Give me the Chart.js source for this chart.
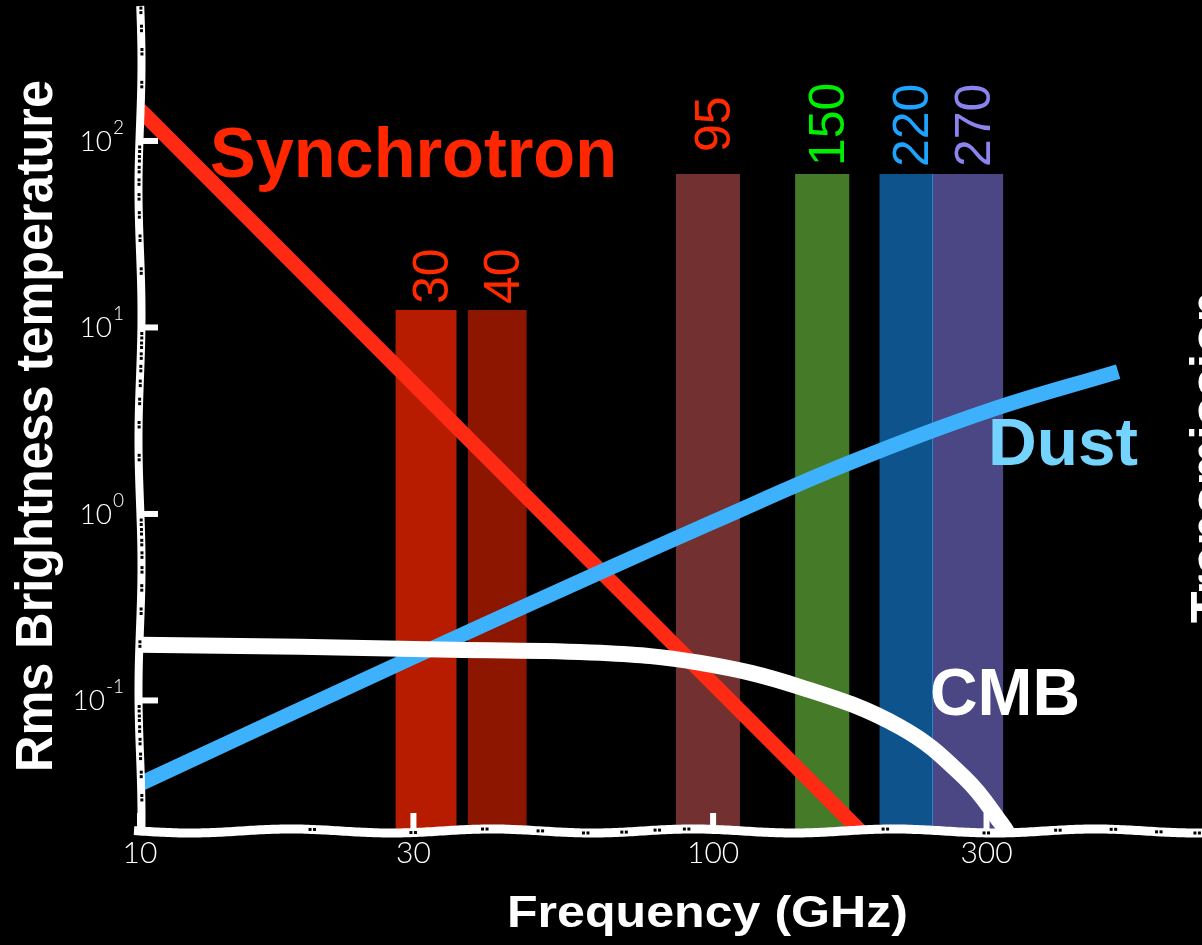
<!DOCTYPE html>
<html>
<head>
<meta charset="utf-8">
<script src="https://cdn.jsdelivr.net/npm/chart.js@4.4.1/dist/chart.umd.min.js"></script>
<style>
  html, body { margin: 0; padding: 0; background: #000; }
  #wrap { width: 1202px; height: 945px; }
</style>
</head>
<body>
<div id="wrap"><canvas id="chart" width="1202" height="945"></canvas></div>
<script>
// axis ticks
const freqTicks = [10, 30, 100, 300];
const tempTicks = [100, 10, 1, 0.1];
const tempTickExp = ["2", "1", "0", "-1"];

// foreground curves (GHz, K)
const syncFreq = [10, 30, 100, 185];
const syncTemp = [147, 5.0, 0.123, 0.0185];
const dustFreq = [10, 30, 64, 100, 173, 300, 509];
const dustTemp = [0.0357, 0.171, 0.492, 0.906, 1.88, 3.55, 5.80];
const cmbFreq = [10, 19, 35, 63.5, 95, 142, 212, 275, 318, 336];
const cmbTemp = [0.199, 0.194, 0.187, 0.180, 0.159, 0.118, 0.0721, 0.0384, 0.0220, 0.0168];

// observing bands
const bandNames = ["30", "40", "95", "150", "220", "270"];
const bandLow = [27.9, 37.3, 86.1, 139, 195, 241];
const bandHigh = [35.7, 47.3, 111.4, 173, 241, 321];
const bandTop = [12.4, 12.4, 66.5, 66.5, 66.5, 66.5];

// styles
const bandColors = ["#b71c00", "#8d1600", "#733030", "#457a28", "#0e538b", "#4a4784"];
const bandTextColors = ["#ff2a00", "#ff2a00", "#ff2a00", "#00ee00", "#1ea4ff", "#8c84ee"];
const bandTextGap = [6, 6, 22, 8, 7, 7];

const toPoints = (xs, ys) => xs.map((v, i) => ({ x: v, y: ys[i] }));

// lower order is drawn on top
const datasets = [
    {
        label: "CMB", data: toPoints(cmbFreq, cmbTemp),
        borderColor: "#ffffff", borderWidth: 16, tension: 0.4, order: 0, clip: 0
    },
    {
        label: "Dust", data: toPoints(dustFreq, dustTemp),
        borderColor: "#3eb1fc", borderWidth: 15, tension: 0.4, order: 1, clip: 0
    },
    {
        label: "Synchrotron", data: toPoints(syncFreq, syncTemp),
        borderColor: "#ff2a14", borderWidth: 15, tension: 0, order: 2, clip: 0
    }
];

bandNames.forEach((name, i) => {
    datasets.push({
        label: name + " GHz",
        data: [{ x: bandLow[i], y: bandTop[i] }, { x: bandHigh[i], y: bandTop[i] }],
        borderWidth: 0,
        borderColor: "rgba(0,0,0,0)",
        backgroundColor: bandColors[i],
        fill: "start",
        order: 3,
        clip: 0
    });
});

// draws text stretched to a given width
function fitText(ctx, text, x, y, font, color, width, angle, align) {
    ctx.save();
    ctx.font = font;
    const w = ctx.measureText(text).width;
    ctx.translate(x, y);
    if (angle) ctx.rotate(angle);
    if (width) ctx.scale(width / w, 1);
    ctx.fillStyle = color;
    ctx.textAlign = align || "left";
    ctx.textBaseline = "alphabetic";
    ctx.fillText(text, 0, 0);
    ctx.restore();
}

// thin light edge between the 220 and 270 bands, under the curves
const bandEdge = {
    id: "bandEdge",
    beforeDatasetsDraw(chart) {
        const { ctx, chartArea, scales } = chart;
        const i = bandNames.indexOf("270");
        const px = scales.x.getPixelForValue(bandLow[i]);
        const top = scales.y.getPixelForValue(bandTop[i]);
        chart._bandEdge = { px, top, bottom: chartArea.bottom };
    },
    afterDatasetDraw(chart, args) {
        // draw right after the last band dataset has been painted
        if (args.index !== datasets.length - 1 || !chart._bandEdge) return;
        const { ctx } = chart;
        const e = chart._bandEdge;
        ctx.save();
        ctx.fillStyle = "#2c7fd2";
        ctx.fillRect(e.px - 1, e.top, 2, e.bottom - e.top);
        ctx.restore();
    }
};

const decor = {
    id: "decor",
    afterDatasetsDraw(chart) {
        const { ctx, chartArea, scales } = chart;
        const xs = scales.x, ys = scales.y;
        const left = chartArea.left, bottom = chartArea.bottom;
        const waveY = px => bottom + 1 + 2 * Math.sin((px - left) / 32);
        const waveX = py => left + 1.5 * Math.sin(py / 40);

        // band labels
        bandNames.forEach((name, i) => {
            const cx = (xs.getPixelForValue(bandLow[i]) + xs.getPixelForValue(bandHigh[i])) / 2 + 4;
            const top = ys.getPixelForValue(bandTop[i]);
            ctx.save();
            ctx.translate(cx + 18, top - bandTextGap[i]);
            ctx.rotate(-Math.PI / 2);
            ctx.font = "50px 'Liberation Sans', Arial, sans-serif";
            ctx.fillStyle = bandTextColors[i];
            ctx.textAlign = "left";
            ctx.fillText(name, 0, 0);
            ctx.restore();
        });

        // axis lines
        ctx.save();
        ctx.strokeStyle = "#fff";
        ctx.lineWidth = 9;
        ctx.beginPath();
        for (let px = left - 6; px <= chart.width; px += 3) {
            if (px === left - 6) ctx.moveTo(px, waveY(px)); else ctx.lineTo(px, waveY(px));
        }
        ctx.stroke();
        ctx.lineWidth = 8;
        ctx.beginPath();
        for (let py = 6; py <= bottom + 6; py += 3) {
            if (py === 6) ctx.moveTo(waveX(py), py); else ctx.lineTo(waveX(py), py);
        }
        ctx.stroke();

        // major tick stubs
        ctx.fillStyle = "#fff";
        freqTicks.forEach(v => {
            const px = xs.getPixelForValue(v);
            ctx.fillRect(px - 3, bottom - 17, 6, 17);
        });
        tempTicks.forEach(v => {
            const py = ys.getPixelForValue(v);
            ctx.fillRect(left, py - 3, 18, 6);
        });

        // minor tick marks (little black squares inside the axis lines)
        ctx.fillStyle = "#000";
        for (let d = 10; d < xs.max; d *= 10) {
            for (let m = 2; m <= 9; m++) {
                const v = m * d;
                if (v > xs.max) break;
                const px = xs.getPixelForValue(v);
                const py = waveY(px);
                ctx.fillRect(px - 4, py - 1.5, 3, 3);
                ctx.fillRect(px + 0.5, py - 1.5, 3, 3);
            }
        }
        for (let d = 0.01; d < ys.max; d *= 10) {
            for (let m = 2; m <= 9; m++) {
                const v = m * d;
                if (v < ys.min || v > ys.max) continue;
                const py = ys.getPixelForValue(v);
                const px = waveX(py);
                ctx.fillRect(px - 1, py - 4, 3, 3);
                ctx.fillRect(px - 1, py + 0.5, 3, 3);
            }
        }

        // tick labels
        ctx.fillStyle = "#fff";
        ctx.textBaseline = "alphabetic";
        ctx.font = "300 30px Lato, 'Open Sans', sans-serif";
        ctx.textAlign = "center";
        freqTicks.forEach(v => {
            ctx.fillText(String(v), xs.getPixelForValue(v), 863);
        });
        tempTicks.forEach((v, i) => {
            const py = ys.getPixelForValue(v);
            ctx.font = "300 19px Lato, 'Open Sans', sans-serif";
            ctx.textAlign = "right";
            const supW = ctx.measureText(tempTickExp[i]).width;
            ctx.fillText(tempTickExp[i], 124, py - 7);
            ctx.font = "300 28px Lato, 'Open Sans', sans-serif";
            ctx.fillText("10", 124 - supW - 1, py + 10);
        });
        ctx.restore();

        // curve labels
        const bold = size => "bold " + size + "px 'Liberation Sans', Arial, sans-serif";
        fitText(ctx, "Synchrotron", 210, 177, bold(70), "#ff2600", 407);
        fitText(ctx, "Dust", 988, 465, bold(67), "#75d4fd", 150);
        fitText(ctx, "CMB", 930, 715, bold(67), "#ffffff", 150);

        // axis titles
        fitText(ctx, "Frequency (GHz)", 507, 927, bold(44), "#ffffff", 401);
        fitText(ctx, "Rms Brightness temperature", 52, 426, bold(51), "#ffffff", 692, -Math.PI / 2, "center");
        fitText(ctx, "Transmission", 1227, 623, bold(51), "#ffffff", 332, -Math.PI / 2, "left");
    }
};

new Chart(document.getElementById("chart"), {
    type: "line",
    data: { datasets },
    options: {
        responsive: false,
        animation: false,
        devicePixelRatio: 1,
        layout: { padding: { left: 140, right: 0, top: 0, bottom: 115 } },
        elements: { point: { radius: 0 }, line: { borderCapStyle: "butt" } },
        plugins: { legend: { display: false }, tooltip: { enabled: false } },
        scales: {
            x: { type: "logarithmic", min: 10, max: 713, display: false },
            y: { type: "logarithmic", min: 0.0202, max: 570, display: false }
        }
    },
    plugins: [bandEdge, decor]
});
</script>
</body>
</html>
